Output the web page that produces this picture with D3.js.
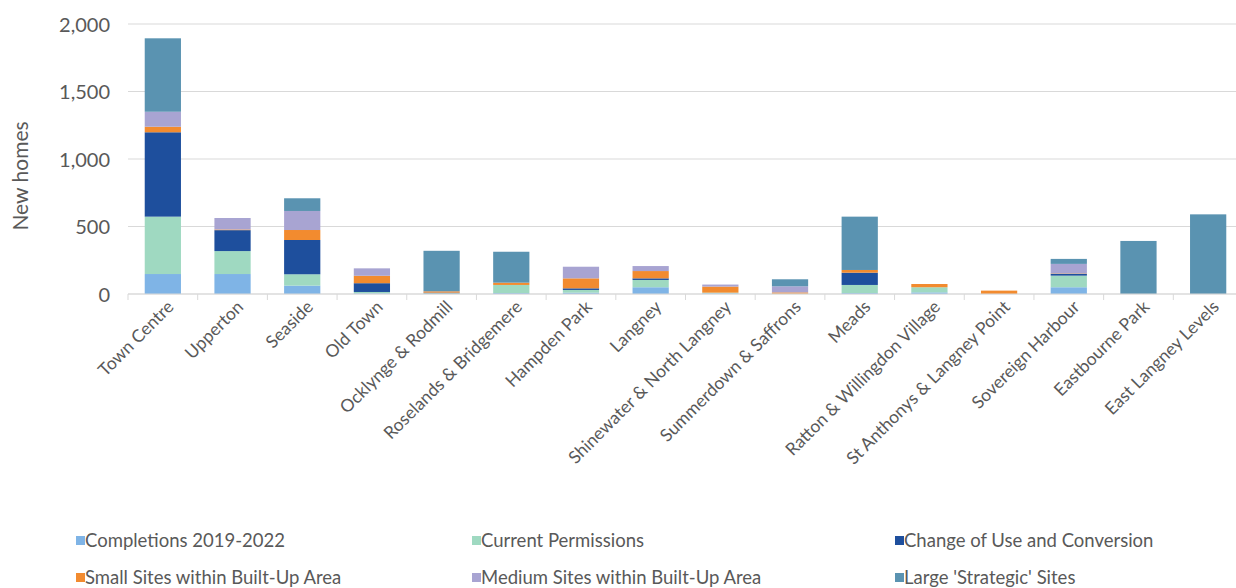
<!DOCTYPE html>
<html>
<head>
<meta charset="utf-8">
<script src="https://cdn.jsdelivr.net/npm/d3@7"></script>
<style>
	body { margin: 0; background: #fff; }
	svg text { font-family: Lato, "Open Sans", sans-serif; fill: #595959; }
</style>
</head>
<body>
<svg id="myGraph" width="1236" height="588"></svg>
<script>
var categories = ["Town Centre", "Upperton", "Seaside", "Old Town", "Ocklynge & Rodmill",
	"Roselands & Bridgemere", "Hampden Park", "Langney", "Shinewater & North Langney",
	"Summerdown & Saffrons", "Meads", "Ratton & Willingdon Village",
	"St Anthonys & Langney Point", "Sovereign Harbour", "Eastbourne Park", "East Langney Levels"];

var seriesNames = ["Completions 2019-2022", "Current Permissions", "Change of Use and Conversion",
	"Small Sites within Built-Up Area", "Medium Sites within Built-Up Area", "Large 'Strategic' Sites"];

var completions = [148, 148, 62, 5, 0, 7, 10, 50, 5, 2, 7, 12, 0, 50, 0, 0];
var currentPermissions = [425, 170, 84, 10, 5, 60, 20, 54, 5, 0, 60, 38, 0, 86, 0, 0];
var changeOfUse = [625, 155, 254, 65, 5, 0, 12, 12, 0, 0, 91, 0, 0, 14, 0, 0];
var smallSites = [41, 5, 74, 55, 10, 17, 74, 54, 45, 10, 20, 24, 25, 3, 0, 0];
var mediumSites = [111, 85, 141, 55, 0, 0, 86, 37, 15, 45, 0, 0, 0, 70, 0, 0];
var largeSites = [544, 0, 94, 0, 300, 229, 0, 0, 0, 52, 395, 0, 0, 37, 393, 590];

var colors = ["#7fb4e6", "#9fd9c1", "#1e4f9d", "#f28b2f", "#a8a4d2", "#5a93b1"];
var yTicks = [0, 500, 1000, 1500, 2000];

window.addEventListener("load", function(){
	var allSeries = [completions, currentPermissions, changeOfUse, smallSites, mediumSites, largeSites];

	// table for d3.stack
	var table = categories.map(function(c, i){
		var row = { name: c };
		seriesNames.forEach(function(s, k){ row[s] = allSeries[k][i]; });
		return row;
	});

	var stacked = d3.stack().keys(seriesNames)(table);

	var svg = d3.select("#myGraph");

	var x = d3.scaleBand()
		.domain(categories)
		.range([128, 1243])
		.paddingInner(0.48)
		.paddingOuter(0.24);

	var y = d3.scaleLinear()
		.domain([0, 2000])
		.range([294, 24]);

	// gridlines
	svg.append("g")
		.selectAll("line")
		.data(yTicks)
		.enter()
		.append("line")
		.attr("x1", 128)
		.attr("x2", 1236)
		.attr("y1", function(d){ return y(d); })
		.attr("y2", function(d){ return y(d); })
		.attr("stroke", "#d9d9d9")
		.attr("stroke-width", 1.2);

	// y axis labels
	var yAxis = d3.axisLeft(y)
		.tickValues(yTicks)
		.tickFormat(d3.format(","))
		.tickSize(0)
		.tickPadding(0);

	svg.append("g")
		.attr("transform", "translate(110,0)")
		.call(yAxis)
		.call(function(g){ g.select(".domain").remove(); })
		.selectAll("text")
		.style("font-size", "20px")
		.attr("dy", "0.35em");

	svg.append("text")
		.attr("transform", "translate(28,176) rotate(-90)")
		.attr("text-anchor", "middle")
		.style("font-size", "21px")
		.text("New homes");

	// bars
	svg.append("g")
		.selectAll("g")
		.data(stacked)
		.enter()
		.append("g")
		.attr("fill", function(d, i){ return colors[i]; })
		.selectAll("rect")
		.data(function(d){ return d; })
		.enter()
		.append("rect")
		.attr("x", function(d){ return x(d.data.name); })
		.attr("y", function(d){ return y(d[1]); })
		.attr("width", x.bandwidth())
		.attr("height", function(d){ return y(d[0]) - y(d[1]); });

	// x axis
	var step = x.step();
	var xAxisG = svg.append("g").attr("transform", "translate(0,294)");
	xAxisG.append("line")
		.attr("x1", 128)
		.attr("x2", 1236)
		.attr("stroke", "#d9d9d9")
		.attr("stroke-width", 1.2);
	xAxisG.selectAll(".tick")
		.data(d3.range(categories.length + 1))
		.enter()
		.append("line")
		.attr("x1", function(i){ return 128 + i * step; })
		.attr("x2", function(i){ return 128 + i * step; })
		.attr("y1", 0)
		.attr("y2", 6)
		.attr("stroke", "#d9d9d9");

	xAxisG.selectAll("text")
		.data(categories)
		.enter()
		.append("text")
		.attr("text-anchor", "end")
		.attr("transform", function(d){
			var cx = x(d) + x.bandwidth() / 2 + 12;
			return "translate(" + cx + ",14) rotate(-45)";
		})
		.style("font-size", "17.5px")
		.text(function(d){ return d; });

	// legend
	var legendX = [76, 472, 895];
	var legend = svg.append("g")
		.selectAll("g")
		.data(seriesNames)
		.enter()
		.append("g")
		.attr("transform", function(d, i){
			return "translate(" + legendX[i % 3] + "," + (i < 3 ? 541 : 578) + ")";
		});

	legend.append("rect")
		.attr("x", 0)
		.attr("y", -5)
		.attr("width", 9)
		.attr("height", 9)
		.attr("fill", function(d, i){ return colors[i]; });

	legend.append("text")
		.attr("x", 9)
		.attr("dy", "0.35em")
		.style("font-size", "18.5px")
		.text(function(d){ return d; });
}, false);
</script>
</body>
</html>
